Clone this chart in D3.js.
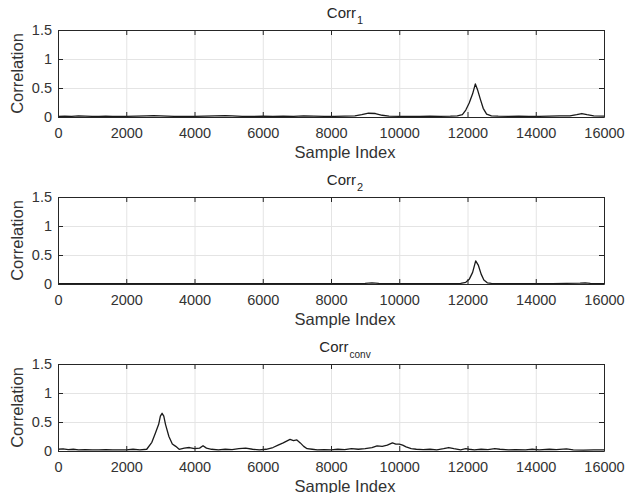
<!DOCTYPE html>
<html>
<head>
<meta charset="utf-8">
<script src="https://d3js.org/d3.v7.min.js"></script>
<style>
    body { margin: 0; background: #fff; }
    .axis path, .axis line { stroke: #262626; }
    .axis text { fill: #333; font-family: "Liberation Sans", Arial, sans-serif; font-size: 14.5px; }
    .grid line { stroke: #e4e4e4; }
    .grid path { display: none; }
</style>
</head>
<body>
<div id="chart"></div>
<script>

// sample positions and correlation values
var corr1X = [0, 200, 400, 600, 800, 1000, 1200, 1400, 1600, 1800, 2000, 2300, 2600, 2800, 3000, 3200, 3400, 3700, 4000, 4300,
    4600, 4900, 5100, 5400, 5700, 6000, 6300, 6600, 6900, 7200, 7500, 7800, 8100, 8400, 8700, 8900, 9100, 9300, 9500, 9700,
    10000, 10300, 10600, 10900, 11200, 11500, 11700, 11850, 11950, 12050, 12150, 12230, 12300, 12380, 12460, 12560, 12700,
    12900, 13200, 13500, 13800, 14100, 14400, 14700, 15000, 15200, 15350, 15500, 15700, 16000];
var corr1Y = [0.01, 0.015, 0.01, 0.02, 0.015, 0.01, 0.01, 0.015, 0.01, 0.012, 0.01, 0.015, 0.02, 0.025, 0.02, 0.015, 0.01, 0.012, 0.01, 0.015,
    0.02, 0.025, 0.02, 0.012, 0.01, 0.015, 0.01, 0.015, 0.012, 0.02, 0.015, 0.01, 0.012, 0.015, 0.02, 0.04, 0.065, 0.06, 0.03, 0.015,
    0.012, 0.01, 0.012, 0.015, 0.012, 0.015, 0.02, 0.04, 0.12, 0.24, 0.4, 0.57, 0.46, 0.3, 0.15, 0.05, 0.02,
    0.015, 0.012, 0.015, 0.01, 0.012, 0.015, 0.02, 0.02, 0.04, 0.06, 0.04, 0.02, 0.015];

var corr2X = [0, 1000, 2000, 3000, 4000, 5000, 6000, 7000, 8000, 9000, 9200, 9400, 10000, 11000, 11800, 11950, 12050, 12150,
    12240, 12320, 12400, 12480, 12580, 12700, 13500, 14500, 15300, 15450, 15600, 16000];
var corr2Y = [0.005, 0.006, 0.005, 0.007, 0.005, 0.006, 0.005, 0.006, 0.005, 0.01, 0.02, 0.01, 0.006, 0.005, 0.01, 0.03, 0.08, 0.2,
    0.4, 0.32, 0.17, 0.07, 0.02, 0.01, 0.006, 0.005, 0.015, 0.02, 0.01, 0.005];

var convX = [0, 150, 300, 450, 600, 800, 1000, 1200, 1400, 1600, 1800, 2000, 2200, 2400, 2600, 2750, 2850, 2950, 3000, 3050,
    3100, 3150, 3250, 3350, 3450, 3550, 3700, 3850, 4000, 4150, 4250, 4350, 4500, 4700, 4900, 5100, 5300, 5500, 5700, 5900,
    6100, 6300, 6450, 6600, 6700, 6800, 6900, 7000, 7100, 7200, 7300, 7450, 7600, 7800, 8000, 8200, 8400, 8600, 8800, 9000,
    9200, 9350, 9500, 9650, 9800, 9900, 10000, 10100, 10200, 10350, 10500, 10700, 10900, 11100, 11300, 11450, 11600, 11800,
    11950, 12050, 12200, 12400, 12600, 12800, 12950, 13200, 13400, 13700, 13900, 14100, 14400, 14600, 14900, 15100, 15400,
    15700, 16000];
var convY = [0.03, 0.035, 0.025, 0.03, 0.02, 0.025, 0.02, 0.02, 0.025, 0.02, 0.02, 0.02, 0.03, 0.02, 0.03, 0.15, 0.3, 0.46, 0.6, 0.65,
    0.6, 0.46, 0.25, 0.12, 0.08, 0.03, 0.05, 0.06, 0.04, 0.05, 0.09, 0.05, 0.03, 0.02, 0.03, 0.025, 0.04, 0.05, 0.03, 0.02,
    0.03, 0.06, 0.1, 0.14, 0.17, 0.2, 0.18, 0.19, 0.14, 0.08, 0.04, 0.03, 0.02, 0.025, 0.02, 0.03, 0.025, 0.04, 0.03, 0.04,
    0.06, 0.09, 0.08, 0.1, 0.14, 0.12, 0.12, 0.1, 0.07, 0.04, 0.03, 0.025, 0.03, 0.02, 0.04, 0.06, 0.04, 0.02,
    0.04, 0.03, 0.02, 0.03, 0.025, 0.04, 0.03, 0.02, 0.025, 0.02, 0.03, 0.02, 0.03, 0.025, 0.035, 0.02, 0.015,
    0.02, 0.02];

var xTicks = [0, 2000, 4000, 6000, 8000, 10000, 12000, 14000, 16000];
var yTicks = [0, 0.5, 1, 1.5];
var titles = ["1", "2", "conv"];

var svg = d3.select("#chart")
    .append("svg")
    .attr("width", 626)
    .attr("height", 493);

CorrChart = function(_svg, _top, _sub, _xs, _ys){
    this.svg = _svg;
    this.top = _top;
    this.sub = _sub;
    this.data = _xs.map(function(d, i) { return { sample: d, corr: _ys[i] }; });

    this.initVis();
};

CorrChart.prototype.initVis = function(){
    var vis = this;

    vis.left = 58;
    vis.width = 546;
    vis.height = 87;

    vis.g = vis.svg.append("g")
        .attr("transform", "translate(" + vis.left + "," + vis.top + ")");

    vis.x = d3.scaleLinear().domain([0, 16000]).range([0, vis.width]);
    vis.y = d3.scaleLinear().domain([0, 1.5]).range([vis.height, 0]);

    // grid
    vis.g.append("g")
        .attr("class", "grid")
        .attr("transform", "translate(0," + vis.height + ")")
        .call(d3.axisBottom(vis.x).tickValues(xTicks).tickSize(-vis.height).tickFormat(""));
    vis.g.append("g")
        .attr("class", "grid")
        .call(d3.axisLeft(vis.y).tickValues(yTicks).tickSize(-vis.width).tickFormat(""));

    var line = d3.line()
        .x(function(d) { return vis.x(d.sample); })
        .y(function(d) { return vis.y(d.corr); });

    vis.g.append("path")
        .attr("d", line(vis.data))
        .attr("fill", "none")
        .attr("stroke", "#1a1a1a")
        .attr("stroke-width", 1.3)
        .attr("stroke-linejoin", "round");

    // box with inward ticks
    vis.g.append("g")
        .attr("class", "axis")
        .attr("transform", "translate(0," + vis.height + ")")
        .call(d3.axisBottom(vis.x).tickValues(xTicks).tickSizeInner(-5).tickSizeOuter(0).tickPadding(11)
            .tickFormat(function(d) { return String(d); }));
    vis.g.append("g")
        .attr("class", "axis")
        .call(d3.axisTop(vis.x).tickValues(xTicks).tickSizeInner(-5).tickSizeOuter(0).tickFormat(""));
    vis.g.append("g")
        .attr("class", "axis")
        .call(d3.axisLeft(vis.y).tickValues(yTicks).tickSizeInner(-5).tickSizeOuter(0).tickPadding(6)
            .tickFormat(function(d) { return String(d); }));
    vis.g.append("g")
        .attr("class", "axis")
        .attr("transform", "translate(" + vis.width + ",0)")
        .call(d3.axisRight(vis.y).tickValues(yTicks).tickSizeInner(-5).tickSizeOuter(0).tickFormat(""));

    // title
    var title = vis.g.append("text")
        .attr("x", vis.width / 2 + 14)
        .attr("y", -12)
        .attr("text-anchor", "middle")
        .attr("font-family", "Liberation Sans, Arial, sans-serif")
        .attr("font-size", "15px")
        .style("fill", "#262626");
    title.append("tspan").text("Corr");
    title.append("tspan")
        .attr("dy", 6)
        .attr("dx", 1)
        .attr("font-size", vis.sub.length > 1 ? "10px" : "11px")
        .text(vis.sub);

    vis.g.append("text")
        .attr("x", vis.width / 2 + 14)
        .attr("y", vis.height + 41)
        .attr("text-anchor", "middle")
        .attr("font-family", "Liberation Sans, Arial, sans-serif")
        .attr("font-size", "16.5px")
        .style("fill", "#333")
        .text("Sample Index");

    vis.g.append("text")
        .attr("x", -(vis.height / 2))
        .attr("y", -41)
        .attr("dy", "0.35em")
        .attr("text-anchor", "middle")
        .attr("transform", "rotate(-90)")
        .attr("font-family", "Liberation Sans, Arial, sans-serif")
        .attr("font-size", "16.5px")
        .style("fill", "#333")
        .text("Correlation");
};

new CorrChart(svg, 30, titles[0], corr1X, corr1Y);
new CorrChart(svg, 197, titles[1], corr2X, corr2Y);
new CorrChart(svg, 364, titles[2], convX, convY);

</script>
</body>
</html>
